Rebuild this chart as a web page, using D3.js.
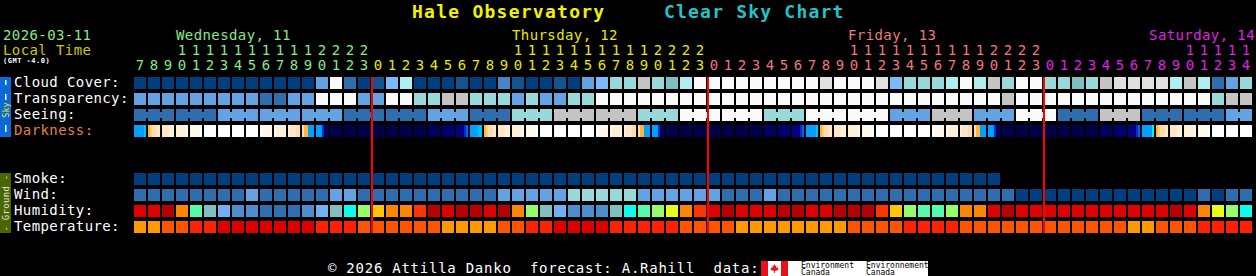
<!DOCTYPE html>
<html>
<head>
<meta charset="utf-8">
<script src="https://cdn.jsdelivr.net/npm/d3@7"></script>
<style>
body { margin:0; background:#000; }
svg { display:block; }
text { font-family:'DejaVu Sans Mono', monospace; }
</style>
</head>
<body>
<script>
//----
//Data
//----
var dayLabels = ['Wednesday, 11', 'Thursday, 12', 'Friday, 13', 'Saturday, 14']
var dayFirstHour = [7, 0, 0, 0]
var dayLastHour = [23, 23, 23, 14]

var skyRows = ['Cloud Cover:', 'Transparency:', 'Seeing:', 'Darkness:']
var groundRows = ['Smoke:', 'Wind:', 'Humidity:', 'Temperature:']

//cloud cover, percent
var cloudCover = [
	0,0,0,0,0,0,0,0,0,0,0,0,0,40,100,20,0,10,50,70,
	0,0,0,10,0,0,30,10,0,0,10,0,40,50,60,60,80,60,65,70,
	100,100,100,100,100,100,100,100,100,90,100,100,100,90,50,60,60,60,70,100,
	70,80,60,100,100,60,60,65,60,80,90,90,90,90,70,80,70,20,40,60]

//transparency, 0 = too cloudy .. 5 = transparent
var transparency = [
	3,3,3,3,3,3,3,3,3,4,4,3,3,0,0,0,3,3,0,0,
	2,2,1,1,2,2,2,3,2,3,3,2,2,0,0,0,0,0,0,0,
	0,0,0,0,0,0,0,0,0,0,0,0,0,0,0,0,0,0,0,0,
	0,0,1,0,0,0,0,0,0,0,0,0,0,0,0,0,0,2,1,1]

//seeing, 0 = too cloudy .. 5 = excellent (3 hour blocks)
var seeing = [
	4,4,4,4,4,4,3,3,3,3,3,3,3,3,3,4,4,4,4,4,
	4,3,3,3,4,4,4,2,2,2,1,1,1,1,1,1,2,2,2,0,
	0,0,0,0,0,2,2,2,0,0,0,0,0,0,3,3,3,1,1,1,
	3,3,3,0,0,0,4,4,4,1,1,1,4,4,4,4,4,4,3,3]

//darkness, colour codes across each hour
var darkness = [
	'bbbbbc','opqqrr','rrrsss','ssssst','tttttw','wwwwww','wwwwww','wwwwww','wwwwww','wttttt',
	'tsssss','srrrqq','qoobbb','bbbdmm','nnnnnn','nnnnnn','nnnnnn','nnnnnn','nnnnnn','nnnnnn',
	'nnnnnn','kkkkkk','mmmmmm','llllde','bbbbcc','opqqrr','rrrsss','ssssst','tttttw','wwwwww',
	'wwwwww','wwwwww','wwwwww','wttttt','tsssss','srrrqq','qoobbb','bbbdmm','nnnnnn','nnnnnn',
	'nnnnnn','nnnnnn','nnnnnn','nnnnnn','nnnnnn','kkkkkk','mmmmmm','llllde','bbbbbc','opqqrr',
	'rrrsss','ssssst','tttttw','wwwwww','wwwwww','wwwwww','wwwwww','wttttt','tsssss','srrrqq',
	'qoobbb','bbbdmm','nnnnnn','nnnnnn','nnnnnn','nnnnnn','nnnnnn','nnnnnn','nnnnnn','kkkkkk',
	'mmmmmm','llllde','bbbbby','opqqrr','rrrsss','ssssst','tttttw','wwwwww','wwwwww','wwwwww']

//smoke, 0 = none
var smoke = [
	0,0,0,0,0,0,0,0,0,0,0,0,0,0,0,0,0,0,0,0,
	0,0,0,0,0,0,0,0,0,0,0,0,0,0,0,0,0,0,0,0,
	0,0,0,0,0,0,0,0,0,0,0,0,0,0,0,0,0,0,0,0,
	0,0]

//wind, mph
var wind = [
	8,8,8,8,8,8,8,8,14,8,8,8,8,8,14,14,8,8,8,8,
	8,8,8,8,8,8,14,14,14,14,14,20,20,20,20,20,14,14,14,14,
	14,14,8,8,8,14,8,8,8,8,8,8,8,8,8,8,8,8,8,8,
	8,8,8,3,3,3,3,3,3,3,3,3,3,3,3,3,8,3,8,8]

//humidity, percent
var humidity = [
	95,95,90,75,55,45,40,35,35,30,30,30,35,40,45,50,60,70,75,75,
	80,90,95,90,90,95,90,75,60,45,40,35,35,35,45,50,55,60,65,75,
	80,95,90,95,95,95,90,90,95,95,90,90,90,80,70,60,55,55,60,75,
	75,95,90,95,95,95,95,95,95,95,95,95,95,95,90,95,75,65,60,50]

//temperature, F
var temperature = [
	57,57,63,63,68,68,74,74,74,74,74,74,74,68,68,68,63,63,63,63,
	63,63,57,57,57,57,63,63,68,68,74,74,74,74,68,68,68,68,68,63,
	63,63,63,57,57,57,57,57,57,57,57,63,63,63,63,68,68,68,68,63,
	63,63,63,63,63,63,63,63,63,63,63,57,57,63,63,63,68,68,68,68]

//-------
//Colours
//-------
var cloudColor = d3.scaleOrdinal()
	.domain([0,10,20,30,40,50,60,65,70,80,90,100])
	.range(['#003f7f','#13538f','#2e6eae','#4686c6','#63a3e3','#7abafa','#99d9d9','#7fbfbf','#aeeeee','#c4c4c4','#e0e0e0','#fafafa'])
var levelColor = d3.scaleOrdinal()
	.domain([0,1,2,3,4,5])
	.range(['#fafafa','#c4c4c4','#99d9d9','#63a3e3','#2e6eae','#003f7f'])
var smokeColor = d3.scaleOrdinal().domain([0]).range(['#003f7f'])
var windColor = d3.scaleThreshold()
	.domain([6,12,17,29,46])
	.range(['#003f7f','#2e6eae','#63a3e3','#99d9d9','#c4c4c4','#fafafa'])
var humidityColor = d3.scaleThreshold()
	.domain([30,35,40,45,50,55,60,65,70,75,80,85,90,95])
	.range(['#0d4d8d','#3070b0','#4e8ece','#71b1f1','#80c0c0','#09feed','#55faad','#94fe6a','#eafb16','#fec600','#fc8602','#fe3401','#ea0000','#b70000','#e10000'])
var tempColor = d3.scaleThreshold()
	.domain([60,66,71])
	.range(['#ff9900','#ff5500','#ff2200','#dd0000'])
var darkColor = {n:'#00004a', k:'#00005c', m:'#00006e', l:'#000088', d:'#0030c8', e:'#0060f0',
	b:'#00a0ff', c:'#00c0ff', y:'#00f0f0', o:'#ffb43c', p:'#ffcc80', q:'#ffdca8',
	r:'#ffe6c4', s:'#fff0dc', t:'#fff8ee', w:'#ffffff'}
var dayColors = ['#88e888', '#e8e800', '#f07878', '#e020e0']

//------
//Layout
//------
var _width = 1256, _height = 276

var hours = [], hourDay = []
dayLabels.forEach(function(d, i){
	for ( var h = dayFirstHour[i]; h <= dayLastHour[i]; h++ ){
		hours.push(h)
		hourDay.push(i)
	}
})

var x = d3.scaleBand()
	.domain(d3.range(hours.length))
	.range([134, 134 + 14 * hours.length - 2])
	.paddingInner(2/14)
var ySky = d3.scaleBand().domain(skyRows).range([77, 137]).paddingInner(0.25)
var yGround = d3.scaleBand().domain(groundRows).range([173, 233]).paddingInner(0.25)

var svg = d3.select('body').append('svg')
	.attr('width', _width)
	.attr('height', _height)

function _text(g, str, px, py, size, color){
	return g.append('text')
		.attr('x', px).attr('y', py)
		.attr('font-size', size)
		.attr('fill', color)
		.text(str)
}

//Title
_text(svg, 'Hale Observatory', 412, 18, 18, '#f2f200')
	.attr('font-weight', 'bold').attr('letter-spacing', 1.25)
_text(svg, 'Clear Sky Chart', 664, 18, 18, '#22c4c8')
	.attr('font-weight', 'bold').attr('letter-spacing', 1.2)

//Date and time zone
_text(svg, '2026-03-11', 3, 40, 14, '#88e888').attr('letter-spacing', 0.4)
_text(svg, 'Local Time', 3, 55, 14, '#d0c800').attr('letter-spacing', 0.4)
_text(svg, '(GMT -4.0)', 3, 63, 7, '#ffffff').attr('letter-spacing', 0.5).attr('font-weight', 'bold')

//Day labels
dayLabels.forEach(function(d, i){
	var idx = hours.findIndex(function(h, j){ return hourDay[j] == i && h == 10 })
	var t = _text(svg, d, x(idx), 40, 14, dayColors[i]).attr('letter-spacing', 0.4)
	var len = t.node().getComputedTextLength()
	if ( x(idx) + len > 1255 ) { t.attr('x', 1255 - len) }
})

//Hour ticks
var gHours = svg.append('g').attr('font-size', 14).attr('text-anchor', 'middle')
gHours.selectAll('text.tens').data(hours).enter().append('text')
	.classed('tens', true)
	.attr('x', function(d, i){ return x(i) + x.bandwidth()/2 })
	.attr('y', 55)
	.attr('fill', function(d, i){ return dayColors[hourDay[i]] })
	.text(function(d){ return d >= 10 ? Math.floor(d/10) : '' })
gHours.selectAll('text.units').data(hours).enter().append('text')
	.classed('units', true)
	.attr('x', function(d, i){ return x(i) + x.bandwidth()/2 })
	.attr('y', 70)
	.attr('fill', function(d, i){ return dayColors[hourDay[i]] })
	.text(function(d){ return d % 10 })

//Row labels
skyRows.forEach(function(r){
	_text(svg, r, 14, ySky(r) + 10, 14, r == 'Darkness:' ? '#e0803c' : '#ffffff').attr('letter-spacing', 0.4)
})
groundRows.forEach(function(r){
	_text(svg, r, 14, yGround(r) + 10, 14, '#ffffff').attr('letter-spacing', 0.4)
})

//Side bars
svg.append('rect').attr('x', 0).attr('y', 77).attr('width', 11).attr('height', 60).attr('fill', '#0a68d8')
;[[80, 85], [94, 100], [125, 132]].forEach(function(d){
	svg.append('rect').attr('x', 5).attr('y', d[0]).attr('width', 1.5).attr('height', d[1] - d[0]).attr('fill', '#ffffff')
})
svg.append('text')
	.attr('transform', 'translate(6,110) rotate(-90)')
	.attr('text-anchor', 'middle').attr('dominant-baseline', 'central')
	.attr('font-size', 8.5).attr('fill', '#f0f000')
	.text('Sky')
svg.append('rect').attr('x', 0).attr('y', 173).attr('width', 11).attr('height', 60).attr('fill', '#4b6600')
svg.append('text')
	.attr('transform', 'translate(6,203) rotate(-90)')
	.attr('text-anchor', 'middle').attr('dominant-baseline', 'central')
	.attr('font-size', 9).attr('letter-spacing', 0.3).attr('fill', '#e8e8e8')
	.text('- Ground -')

//Cells
function _drawRow(g, y, values, color){
	g.selectAll(null).data(values).enter().append('rect')
		.attr('x', function(d, i){ return x(i) })
		.attr('y', y)
		.attr('width', x.bandwidth())
		.attr('height', 12)
		.attr('fill', function(d){ return color(d) })
}

var gCells = svg.append('g').attr('id', 'g-cells')
_drawRow(gCells, ySky('Cloud Cover:'), cloudCover, cloudColor)
_drawRow(gCells, ySky('Transparency:'), transparency, levelColor)
_drawRow(gCells, ySky('Seeing:'), seeing, levelColor)
//seeing comes in 3 hour blocks, join the cells of each block
seeing.forEach(function(d, i){
	if ( i % 3 == 2 || i == seeing.length - 1 ) { return }
	gCells.append('rect')
		.attr('x', x(i) + x.bandwidth())
		.attr('y', ySky('Seeing:') + 3)
		.attr('width', x.step() - x.bandwidth())
		.attr('height', 6)
		.attr('fill', levelColor(d))
})
//darkness, split every hour into slices
darkness.forEach(function(d, i){
	var w = x.bandwidth() / d.length
	d.split('').forEach(function(c, j){
		gCells.append('rect')
			.attr('x', x(i) + j * w)
			.attr('y', ySky('Darkness:'))
			.attr('width', w + 0.05)
			.attr('height', 12)
			.attr('fill', darkColor[c])
	})
})
_drawRow(gCells, yGround('Smoke:'), smoke, smokeColor)
_drawRow(gCells, yGround('Wind:'), wind, windColor)
_drawRow(gCells, yGround('Humidity:'), humidity, humidityColor)
_drawRow(gCells, yGround('Temperature:'), temperature, tempColor)

//Midnight lines
hours.forEach(function(h, i){
	if ( h == 0 && i > 0 ){
		svg.append('rect')
			.attr('x', x(i) - 1).attr('y', 77)
			.attr('width', 2).attr('height', 156)
			.attr('fill', '#ff0000')
	}
})

//Footer
_text(svg, '\u00a9 2026 Attilla Danko  forecast: A.Rahill  data:', 328, 273, 14, '#ffffff')
	.attr('letter-spacing', 0.75).style('white-space', 'pre')
var gFlag = svg.append('g')
gFlag.append('rect').attr('x', 761).attr('y', 261).attr('width', 27).attr('height', 15).attr('fill', '#ffffff')
gFlag.append('rect').attr('x', 761).attr('y', 261).attr('width', 7).attr('height', 15).attr('fill', '#e8121a')
gFlag.append('rect').attr('x', 781).attr('y', 261).attr('width', 7).attr('height', 15).attr('fill', '#e8121a')
gFlag.append('path')
	.attr('transform', 'translate(774.5,268.5)')
	.attr('d', 'M0,-4.5L1,-2.5L2,-3L1.7,-0.3L3.8,-1.6L3.3,0.2L4.3,0.9L1.5,2.3L0.5,2.2L0.5,4.5L-0.5,4.5L-0.5,2.2L-1.5,2.3L-4.3,0.9L-3.3,0.2L-3.8,-1.6L-1.7,-0.3L-2,-3L-1,-2.5Z')
	.attr('fill', '#e8121a')
gFlag.append('rect').attr('x', 788).attr('y', 261).attr('width', 140).attr('height', 15).attr('fill', '#ffffff')
;[['Environment', 801, 268], ['Canada', 801, 275], ['Environnement', 866, 268], ['Canada', 866, 275]].forEach(function(d){
	gFlag.append('text')
		.attr('x', d[1]).attr('y', d[2])
		.attr('font-family', 'Liberation Sans, Arial, sans-serif')
		.attr('font-size', 8).attr('fill', '#000000')
		.text(d[0])
})
</script>
</body>
</html>
